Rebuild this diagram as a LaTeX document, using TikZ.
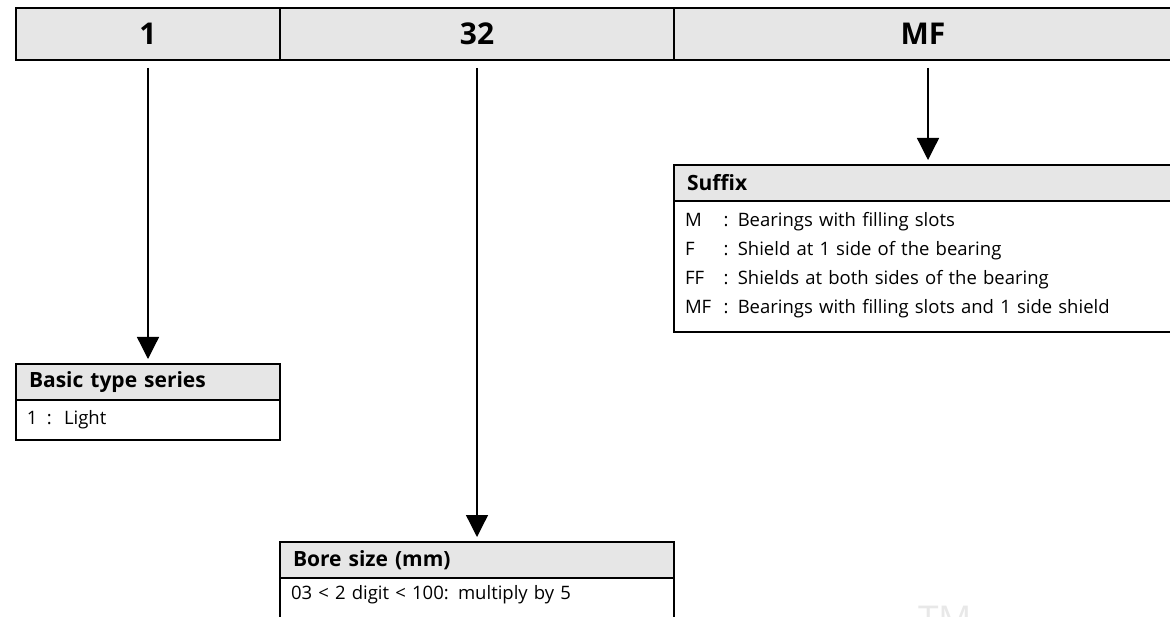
\documentclass[tikz,border=0pt]{standalone}
\usepackage{fontspec}
\setmainfont{Open Sans}
\usepackage{xcolor}
\usepackage{tikz}
\usetikzlibrary{positioning}
\usetikzlibrary{arrows.meta}

\definecolor{headgray}{HTML}{E6E6E6}
\definecolor{markgray}{HTML}{E8E8E8}

\begin{document}
\begin{tikzpicture}[
  x=1pt, y=-1pt,
  cell/.style={draw,line width=2pt,fill=headgray,outer sep=0pt,inner sep=0pt,
               minimum height=52pt,font=\fontsize{30}{34}\selectfont\bfseries},
  boxhead/.style={draw,line width=2pt,fill=headgray,outer sep=0pt,inner xsep=13pt,
                  inner ysep=0pt,minimum height=36pt,align=left,
                  font=\fontsize{21}{24}\selectfont\bfseries},
  boxbody/.style={draw,line width=2pt,fill=white,outer sep=0pt,inner xsep=11pt,
                  inner ysep=0pt,align=left,font=\fontsize{18.5}{22}\selectfont},
  link/.style={draw,line width=1.3pt,-{Triangle[width=22pt,length=22pt]},
               shorten <=8pt,shorten >=5pt}
]
\useasboundingbox (0,0) rectangle (1170,617);

% top bar
\node[cell,minimum width=264pt] (cell1) at (148,34) {1};
\node[cell,minimum width=394pt,right=0pt of cell1] (cell32) {32};
\node[cell,minimum width=508pt,right=0pt of cell32] (cellMF) {\hspace*{-10pt}MF};

% basic type series
\node[boxhead,text width=238pt,anchor=north] (basichead) at (148,364) {Basic type series};
\node[boxbody,text width=242pt,minimum height=40pt,below=0pt of basichead] (basicbody)
  {1 \,:\, Light};

% bore size
\node[boxhead,text width=368pt,anchor=north] (borehead) at (477,542) {Bore size (mm)};
\node[boxbody,text width=372pt,text height=21.6pt,text depth=25pt,below=0pt of borehead] (borebody)
  {03 < 2 digit < 100: multiply by 5};

% suffix
\node[boxhead,text width=482pt,anchor=north] (suffixhead) at (928,165) {Suffix};
\node[boxbody,text width=486pt,text height=25.6pt,text depth=105.4pt,below=0pt of suffixhead] (suffixbody)
  {\def\arraystretch{1.318}%
   \begin{tabular}[t]{@{}l@{\ \ }l@{}}
   M  & : Bearings with filling slots\\
   F  & : Shield at 1 side of the bearing\\
   FF & : Shields at both sides of the bearing\\
   MF & : Bearings with filling slots and 1 side shield
   \end{tabular}};

% connectors
\draw[link] (cell1.south) -- (basichead.north);
\draw[link] (cell32.south) -- (borehead.north);
\draw[link] (cellMF.south) -- (suffixhead.north);

% watermark
\node[anchor=base,text=markgray,inner sep=0pt,font=\fontsize{37}{40}\selectfont] (tm) at (945,632) {TM};

\end{tikzpicture}
\end{document}
